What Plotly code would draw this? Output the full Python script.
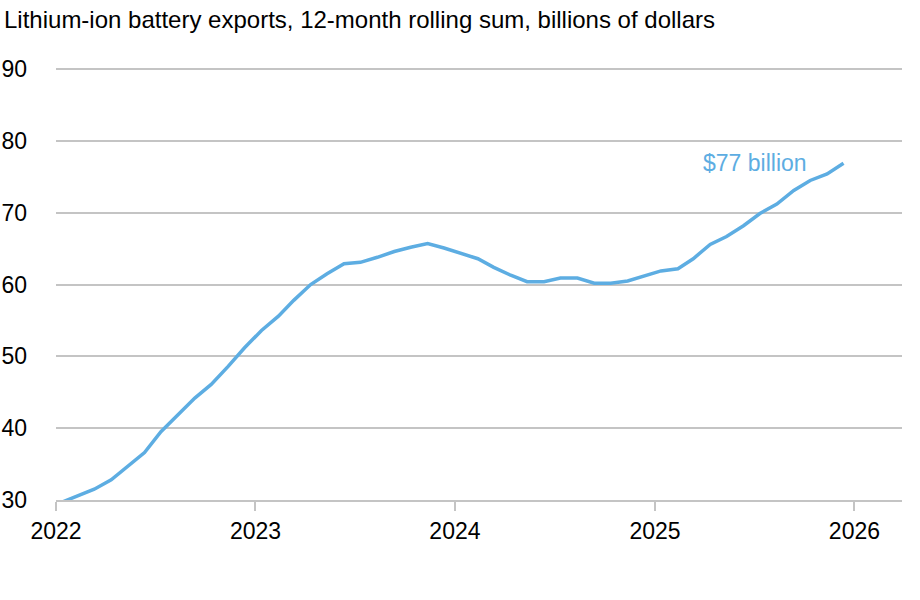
import plotly.graph_objects as go

title_text = "Lithium-ion battery exports, 12-month rolling sum, billions of dollars"
months = [f"{y}-{m:02d}-12" for y in range(2022, 2026) for m in range(1, 13)]
values = [29.7, 30.6, 31.5, 32.8, 34.6, 36.6, 39.5, 41.8, 44.2, 46.1, 48.6, 51.2,
          53.6, 55.6, 57.8, 60.0, 61.5, 62.9, 63.1, 63.8, 64.6, 65.2, 65.7, 65.1,
          64.4, 63.6, 62.4, 61.3, 60.4, 60.4, 60.9, 60.9, 60.2, 60.2, 60.5, 61.25,
          61.9, 62.2, 63.6, 65.6, 66.7, 68.2, 69.9, 71.2, 73.1, 74.5, 75.4, 76.9]
label_text = "$77 billion"
x_ticks = ["2022-01-01", "2023-01-01", "2024-01-01", "2025-01-01", "2026-01-01"]
x_ticklabels = ["2022", "2023", "2024", "2025", "2026"]
y_ticks = [30, 40, 50, 60, 70, 80, 90]

blue = "#5DADE2"
grid = "#C4C4C4"
font_family = "Liberation Sans, Arial, sans-serif"

fig = go.Figure()
fig.add_trace(go.Scatter(x=months, y=values, mode="lines",
                         line=dict(color=blue, width=3.5), hoverinfo="skip"))

fig.add_annotation(x=months[-1], y=values[-1], text=label_text, showarrow=False,
                   xanchor="right", yanchor="middle", xshift=-35, yshift=0,
                   font=dict(family=font_family, size=23, color=blue))

fig.update_layout(
    width=920, height=600,
    paper_bgcolor="white", plot_bgcolor="white",
    margin=dict(l=56, r=18, t=67, b=100, autoexpand=False),
    showlegend=False,
    title=dict(text=title_text, x=4/920, xref="container", xanchor="left",
               y=1 - 11/600, yref="container", yanchor="top",
               font=dict(family=font_family, size=24, color="black")),
    font=dict(family=font_family, size=23, color="black"),
)
fig.update_xaxes(
    type="date", range=["2022-01-01", "2026-03-29"],
    tickvals=x_ticks, ticktext=x_ticklabels,
    showgrid=False, zeroline=False, automargin=False,
    showline=True, linecolor=grid, linewidth=2,
    ticks="outside", ticklen=9, tickwidth=1.5, tickcolor=grid,
    tickfont=dict(family=font_family, size=23, color="black"),
)
fig.update_yaxes(
    range=[30, 90.3], tickvals=y_ticks, automargin=False,
    showgrid=True, gridcolor=grid, gridwidth=1.5,
    zeroline=False, showline=False, ticks="",
    ticklabelstandoff=28,
    tickfont=dict(family=font_family, size=23, color="black"),
)

fig.write_html("out.html", config={"displayModeBar": False},
               post_script="document.body.style.margin='0';")
